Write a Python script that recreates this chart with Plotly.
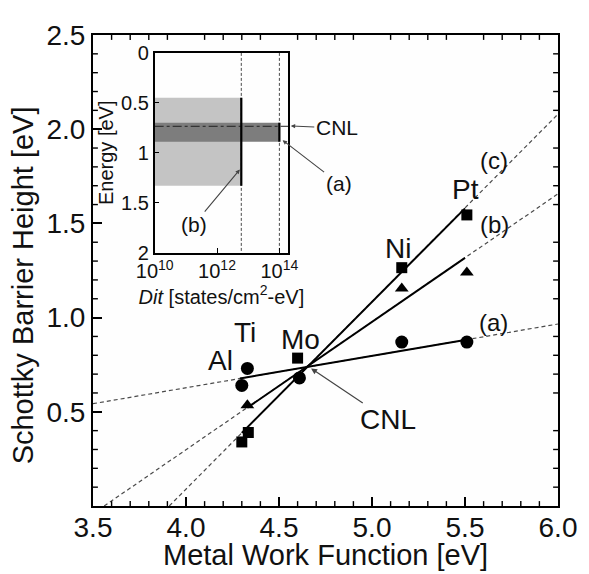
import plotly.graph_objects as go

# ---------------- data ----------------
metals = ["Al", "Ti", "Mo", "Ni", "Pt"]

# (a) circles
wf_a = [4.30, 4.33, 4.61, 5.16, 5.51]
sbh_a = [0.64, 0.73, 0.68, 0.87, 0.87]
# (b) triangles
wf_b = [4.33, 5.16, 5.51]
sbh_b = [0.535, 1.155, 1.24]
# (c) squares
wf_c = [4.30, 4.335, 4.60, 5.16, 5.51]
sbh_c = [0.34, 0.39, 0.785, 1.265, 1.545]

# fitted lines: dashed extension (full) and solid (data span)
line_a_dash_x = [3.5, 6.0]
line_a_dash_y = [0.543, 0.966]
line_a_solid_x = [4.29, 5.50]
line_a_solid_y = [0.677, 0.881]

line_b_dash_x = [3.56, 6.0]
line_b_dash_y = [0.0, 1.657]
line_b_solid_x = [4.33, 5.50]
line_b_solid_y = [0.522, 1.317]

line_c_dash_x = [3.91, 6.0]
line_c_dash_y = [0.0, 2.08]
line_c_solid_x = [4.30, 5.50]
line_c_solid_y = [0.388, 1.580]

x_ticks = [3.5, 4.0, 4.5, 5.0, 5.5, 6.0]
y_ticks = [0.5, 1.0, 1.5, 2.0, 2.5]

# inset: interface state density
dit_min = 1e10
band_b_dit = 6.0e12
band_b_energy = [0.45, 1.33]
band_a_dit = 1.0e14
band_a_energy = [0.70, 0.89]
cnl_energy = 0.735
inset_dit_ticks = [1e10, 1e12, 1e14]
inset_dit_text = ["10<sup>10</sup>", "10<sup>12</sup>", "10<sup>14</sup>"]
inset_e_ticks = [0, 0.5, 1, 1.5, 2]
inset_e_text = ["0", "0.5", "1", "1.5", "2"]

FONT = "Liberation Sans, Arial, Helvetica, sans-serif"
DASH_COL = "#4a4a4a"
X_RANGE = [3.5, 6.0]
Y_RANGE = [0.0, 2.5]
PLOT_W, PLOT_H = 475, 482

fig = go.Figure()

for xs, ys in [(line_a_dash_x, line_a_dash_y), (line_b_dash_x, line_b_dash_y),
               (line_c_dash_x, line_c_dash_y)]:
    fig.add_trace(go.Scatter(x=xs, y=ys, mode="lines",
                             line=dict(color=DASH_COL, width=1.2, dash="4px,3px"),
                             showlegend=False, hoverinfo="skip"))
for xs, ys in [(line_a_solid_x, line_a_solid_y), (line_b_solid_x, line_b_solid_y),
               (line_c_solid_x, line_c_solid_y)]:
    fig.add_trace(go.Scatter(x=xs, y=ys, mode="lines",
                             line=dict(color="black", width=2),
                             showlegend=False, hoverinfo="skip"))

fig.add_trace(go.Scatter(x=wf_a, y=sbh_a, mode="markers",
                         marker=dict(symbol="circle", size=13, color="black"),
                         showlegend=False))
fig.add_trace(go.Scatter(x=wf_b, y=sbh_b, mode="markers",
                         marker=dict(symbol="triangle-up", size=12, color="black"),
                         showlegend=False))
fig.add_trace(go.Scatter(x=wf_c, y=sbh_c, mode="markers",
                         marker=dict(symbol="square", size=11, color="black"),
                         showlegend=False))

# ---- minor tick marks of the main axes (styling, drawn in axis units) ----
px_x = (X_RANGE[1] - X_RANGE[0]) / PLOT_W
px_y = (Y_RANGE[1] - Y_RANGE[0]) / PLOT_H
tx, ty = [], []
for i in range(26):
    if i % 5 == 0:
        continue
    xv = X_RANGE[0] + 0.1 * i
    tx += [xv, xv, None, xv, xv, None]
    ty += [Y_RANGE[0], Y_RANGE[0] + 5 * px_y, None, Y_RANGE[1], Y_RANGE[1] - 5 * px_y, None]
    yv = Y_RANGE[0] + 0.1 * i
    tx += [X_RANGE[0], X_RANGE[0] + 5 * px_x, None, X_RANGE[1], X_RANGE[1] - 5 * px_x, None]
    ty += [yv, yv, None, yv, yv, None]
fig.add_trace(go.Scatter(x=tx, y=ty, mode="lines", line=dict(color="black", width=1.4),
                         showlegend=False, hoverinfo="skip"))

# ---------------- inset ----------------
x_right = 10 ** 14.28
fig.add_trace(go.Scatter(
    x=[dit_min, band_b_dit, band_b_dit, dit_min, dit_min],
    y=[band_b_energy[0], band_b_energy[0], band_b_energy[1], band_b_energy[1], band_b_energy[0]],
    mode="lines", fill="toself", fillcolor="#c4c4c4", line=dict(width=0),
    xaxis="x2", yaxis="y2", showlegend=False, hoverinfo="skip"))
fig.add_trace(go.Scatter(
    x=[dit_min, band_a_dit, band_a_dit, dit_min, dit_min],
    y=[band_a_energy[0], band_a_energy[0], band_a_energy[1], band_a_energy[1], band_a_energy[0]],
    mode="lines", fill="toself", fillcolor="#7d7d7d", line=dict(width=0),
    xaxis="x2", yaxis="y2", showlegend=False, hoverinfo="skip"))
for d in [band_b_dit, band_a_dit]:
    fig.add_trace(go.Scatter(x=[d, d], y=[0, 2], mode="lines",
                             line=dict(color=DASH_COL, width=1, dash="3px,2px"),
                             xaxis="x2", yaxis="y2", showlegend=False, hoverinfo="skip"))
fig.add_trace(go.Scatter(x=[dit_min, x_right], y=[cnl_energy, cnl_energy], mode="lines",
                         line=dict(color="#222", width=1, dash="dashdot"),
                         xaxis="x2", yaxis="y2", showlegend=False, hoverinfo="skip"))
fig.add_trace(go.Scatter(x=[band_b_dit, band_b_dit], y=band_b_energy, mode="lines",
                         line=dict(color="black", width=2.2),
                         xaxis="x2", yaxis="y2", showlegend=False, hoverinfo="skip"))
fig.add_trace(go.Scatter(x=[band_a_dit, band_a_dit], y=band_a_energy, mode="lines",
                         line=dict(color="black", width=2.2),
                         xaxis="x2", yaxis="y2", showlegend=False, hoverinfo="skip"))

main_axis = dict(showline=True, linewidth=2, linecolor="black", mirror=True,
                 ticks="inside", ticklen=9, tickwidth=1.5, tickcolor="black",
                 showgrid=False, zeroline=False,
                 tickfont=dict(family=FONT, size=28, color="#111"))

# the page body adds an 8px margin, so the figure is 8px smaller than the window
fig.update_layout(
    width=581, height=566, autosize=False,
    margin=dict(l=85, r=21, t=16, b=68),
    plot_bgcolor="#fefefe", paper_bgcolor="white",
    font=dict(family=FONT, color="#111"),
    xaxis=dict(range=X_RANGE, tickmode="array", tickvals=x_ticks,
               ticktext=[f"{v:.1f}" for v in x_ticks], ticklabelstandoff=-5, **main_axis),
    yaxis=dict(range=Y_RANGE, tickmode="array", tickvals=y_ticks,
               ticktext=[f"{v:.1f}" for v in y_ticks], **main_axis),
    xaxis2=dict(type="log", range=[10, 14.28], domain=[0.1326, 0.4196], anchor="y2",
                tickvals=inset_dit_ticks, ticktext=inset_dit_text,
                showline=True, linewidth=1.5, linecolor="black", mirror=True,
                ticks="inside", ticklen=5, tickwidth=1.2, tickcolor="black",
                showgrid=False, zeroline=False,
                tickfont=dict(family=FONT, size=20, color="#111"),
                title=dict(text="<i>Dit</i> [states/cm<sup>2</sup>-eV]",
                           font=dict(family=FONT, size=20, color="#111"), standoff=2)),
    yaxis2=dict(range=[2, 0], domain=[0.538, 0.962], anchor="x2",
                tickvals=inset_e_ticks, ticktext=inset_e_text,
                showline=True, linewidth=1.5, linecolor="black", mirror=True,
                ticks="inside", ticklen=5, tickwidth=1.2, tickcolor="black",
                showgrid=False, zeroline=False,
                tickfont=dict(family=FONT, size=20, color="#111"),
                title=dict(text="Energy [eV]", font=dict(family=FONT, size=20, color="#111"),
                           standoff=2)),
)

title_font = dict(family=FONT, size=29, color="#111")
fig.add_annotation(x=0.5, y=-0.104, xref="paper", yref="paper",
                   text="Metal Work Function [eV]", showarrow=False,
                   font=title_font, xanchor="center", yanchor="middle")
fig.add_annotation(x=-0.150, y=0.469, xref="paper", yref="paper",
                   text="Schottky Barrier Height [eV]", showarrow=False, textangle=-90,
                   font=title_font, xanchor="center", yanchor="middle")

label_font = dict(family=FONT, size=28, color="#111")
small_font = dict(family=FONT, size=24, color="#111")
for txt, x, y in [("Al", 4.186, 0.77), ("Ti", 4.317, 0.92), ("Mo", 4.616, 0.883),
                  ("Ni", 5.142, 1.365), ("Pt", 5.50, 1.681)]:
    fig.add_annotation(x=x, y=y, xref="x", yref="y", text=txt, showarrow=False,
                       font=label_font, xanchor="center", yanchor="middle")
for txt, x, y in [("(a)", 5.651, 0.975), ("(b)", 5.658, 1.495), ("(c)", 5.656, 1.832)]:
    fig.add_annotation(x=x, y=y, xref="x", yref="y", text=txt, showarrow=False,
                       font=small_font, xanchor="center", yanchor="middle")
# CNL label with arrow pointing at the crossing point
fig.add_annotation(x=4.668, y=0.733, xref="x", yref="y", text="CNL", showarrow=True,
                   ax=78, ay=52, axref="pixel", ayref="pixel", font=label_font,
                   arrowhead=2, arrowsize=1, arrowwidth=1.2, arrowcolor="#444", standoff=1)

# inset labels with arrows (arrow heads in paper coords)
inset_font = dict(family=FONT, size=21, color="#111")
for txt, hx, hy, ax, ay in [("CNL", 0.4253, 0.807, 46, 2),
                            ("(a)", 0.4078, 0.7766, 56, 43),
                            ("(b)", 0.3158, 0.7143, -46, 55)]:
    fig.add_annotation(x=hx, y=hy, xref="paper", yref="paper", text=txt, showarrow=True,
                       ax=ax, ay=ay, axref="pixel", ayref="pixel", font=inset_font,
                       arrowhead=2, arrowsize=0.8, arrowwidth=1.1, arrowcolor="#444")

fig.write_html("out.html")
